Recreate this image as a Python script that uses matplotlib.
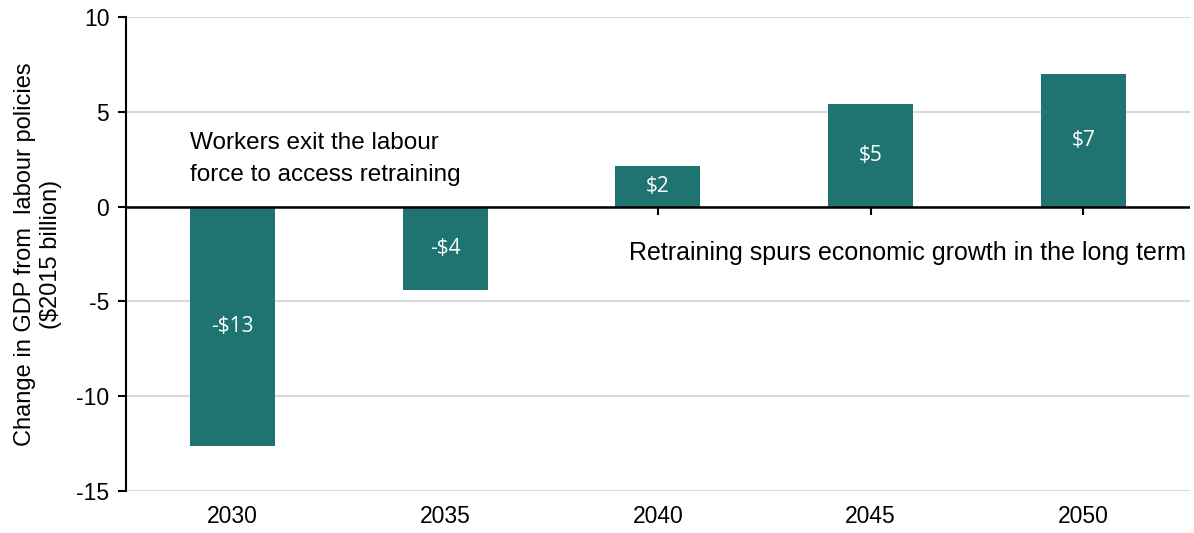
import matplotlib
matplotlib.use("Agg")
import matplotlib.pyplot as plt

years = ["2030", "2035", "2040", "2045", "2050"]
values = [-12.63, -4.42, 2.16, 5.42, 7.0]
value_labels = ["-$13", "-$4", "$2", "$5", "$7"]
y_ticks = [-15, -10, -5, 0, 5, 10]

bar_color = "#1F7472"
font = "Liberation Sans"

fig = plt.figure(figsize=(11.94, 5.33), dpi=100)
ax = fig.add_axes([0.1055, 0.0788, 0.891, 0.8893])

x = list(range(len(years)))
bars = ax.bar(x, values, width=0.4, color=bar_color, zorder=3)
ax.bar_label(bars, labels=value_labels, label_type="center", color="white",
             fontsize=15, family="Open Sans")

ax.set_ylim(-15, 10)
ax.set_xlim(-0.5, len(years) - 0.5)
ax.set_yticks(y_ticks)
ax.set_yticklabels([str(t) for t in y_ticks], fontsize=16.5, family=font)
ax.set_xticks(x)
ax.set_xticklabels(years, fontsize=16.5, family=font)
ax.tick_params(axis="x", length=0, pad=10)
ax.tick_params(axis="y", length=6, width=1.5, direction="out", pad=6)

ax.grid(axis="y", color="#D9D9D9", linewidth=1.5, zorder=0)
for s in ["top", "right", "bottom"]:
    ax.spines[s].set_visible(False)
ax.spines["left"].set_linewidth(1.5)

ax.axhline(0, color="black", linewidth=1.8, zorder=4)
zero_loc = (0 - (-15)) / 25
sec = ax.secondary_xaxis(zero_loc)
sec.set_xticks(x)
sec.set_xticklabels([])
sec.tick_params(length=6, width=1.5, direction="in")
for s in sec.spines.values():
    s.set_visible(False)

ax.set_ylabel("Change in GDP from  labour policies\n($2015 billion)", fontsize=17,
              family=font, labelpad=10, linespacing=1.25)

ax.text(-0.2, 2.5, "Workers exit the labour\nforce to access retraining", ha="left",
        va="center", fontsize=17.5, family=font, linespacing=1.6, zorder=5)
ax.text(4.48, -2.47, "Retraining spurs economic growth in the long term", ha="right",
        va="center", fontsize=18, family=font, zorder=5)

fig.savefig("out.png", dpi=100)
